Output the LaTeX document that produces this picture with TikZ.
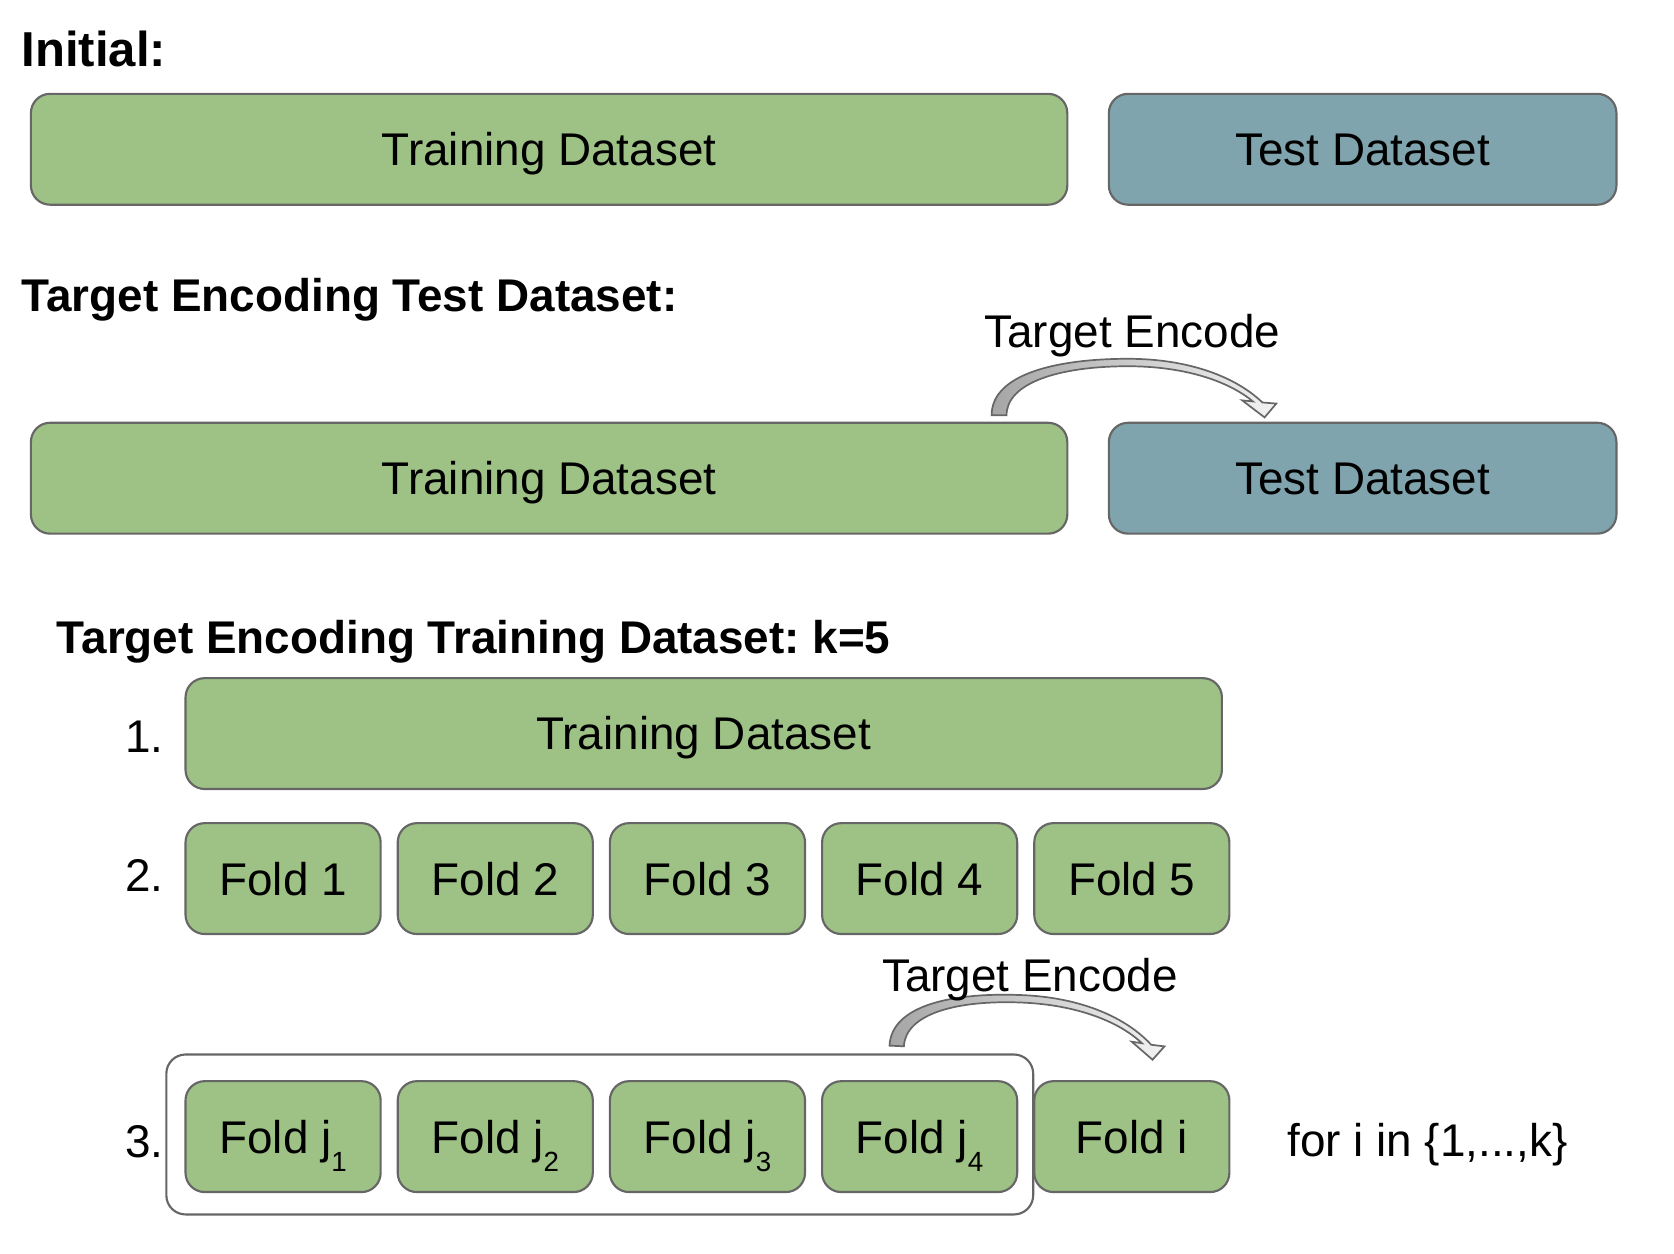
\documentclass[tikz,border=0pt]{standalone}
\usepackage{fontspec}
\setmainfont{Liberation Sans}
\usetikzlibrary{calc}
\definecolor{traingreen}{HTML}{9EC285}
\definecolor{testblue}{HTML}{7FA4AE}
\definecolor{edgegray}{HTML}{666666}
\newcommand\foldsub[1]{\raisebox{-8.5pt}{\fontsize{13}{13}\selectfont #1}}
\frenchspacing
\begin{document}
\begin{tikzpicture}[
      x=0.5pt,y=-0.5pt,
      every node/.style={font=\fontsize{21.5}{25}\selectfont},
      dsbox/.style={
        draw=edgegray,line width=1pt,rounded corners=9pt,
        minimum height=52pt,inner sep=0pt,text height=15.4pt,text depth=0pt
      },
      trainbox/.style={dsbox,fill=traingreen,minimum width=486pt},
      testbox/.style={dsbox,fill=testblue,minimum width=238pt},
      foldbox/.style={dsbox,fill=traingreen,minimum width=91.5pt},
      heading/.style={anchor=base west,inner sep=0pt,font=\fontsize{21.5}{25}\selectfont\bfseries},
      stepnum/.style={anchor=base west,inner sep=0pt},
      encarrow/.style={draw=edgegray,line width=0.8pt,left color=gray!70,right color=gray!10},
      encodearrow/.pic={
        \draw[encarrow] (-7,0) .. controls (-7,-38) and (52,-53) .. (121,-53)
          .. controls (178,-53) and (222,-36) .. (247,-12) -- (260,-11) -- (249,2)
          -- (228,-14) -- (238,-13) .. controls (214,-33) and (172,-46) .. (121,-46)
          .. controls (55,-46) and (7,-30) .. (7,0) -- cycle;
      },
    ]
    \useasboundingbox (0,0) rectangle (1570,1176);
    \node[heading,font=\fontsize{23}{27}\selectfont\bfseries] (initial) at (20,62) {Initial:};
    \node[trainbox] (train1) at (515,140) {Training Dataset};
    \node[testbox] (test1) at (1278,140) {Test Dataset};
    \node[heading] (testhead) at (20,292) {Target Encoding Test Dataset:};
    \node[trainbox] (train2) at (515,448.5) {Training Dataset};
    \node[testbox] (test2) at (1278,448.5) {Test Dataset};
    \pic at ($(train2.north east)+(-65,-6)$) {encodearrow};
    \node[anchor=base] (enc1) at (1062,326) {Target Encode};
    \node[heading] (trainhead) at (53,613) {Target Encoding Training Dataset: k=5};
    \node[stepnum] (s1) at (117,706) {1.};
    \node[trainbox] (train3) at (660,688) {Training Dataset};
    \node[stepnum] (s2) at (117,836) {2.};
    \node[foldbox] (fold1) at (265.5,824) {Fold 1};
    \node[foldbox] (fold2) at (464.5,824) {Fold 2};
    \node[foldbox] (fold3) at (663.5,824) {Fold 3};
    \node[foldbox] (fold4) at (862.5,824) {Fold 4};
    \node[foldbox] (fold5) at (1061.5,824) {Fold 5};
    \node[draw=edgegray,line width=1pt,rounded corners=9pt,fill=white,
      minimum width=406.5pt,minimum height=75pt] (window) at (562.5,1064) {};
    \node[stepnum] (s3) at (117,1086) {3.};
    \node[foldbox] (foldj1) at (265.5,1066) {Fold j\foldsub{1}};
    \node[foldbox] (foldj2) at (464.5,1066) {Fold j\foldsub{2}};
    \node[foldbox] (foldj3) at (663.5,1066) {Fold j\foldsub{3}};
    \node[foldbox] (foldj4) at (862.5,1066) {Fold j\foldsub{4}};
    \node[foldbox] (foldi) at (1061.5,1066) {Fold i};
    \pic[rotate=-2.6,xscale=0.965] at ($(window.north east)+(-129,-7)$) {encodearrow};
    \node[anchor=base] (enc2) at (966,930) {Target Encode};
    \node[stepnum] (forall) at (1207,1085) {for i in \{1,...,k\}};
  \end{tikzpicture}
\end{document}
